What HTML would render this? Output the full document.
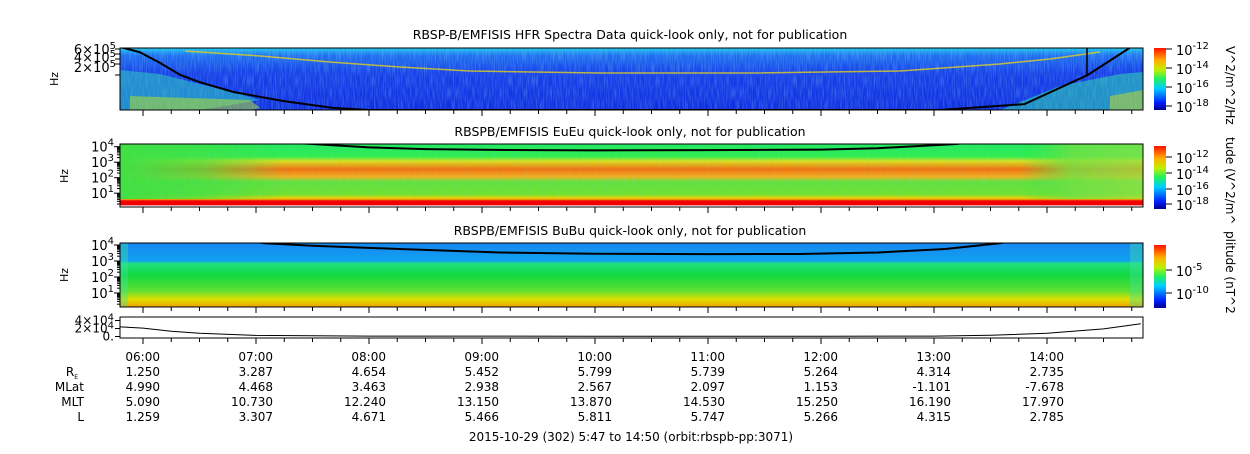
<!DOCTYPE html>
<html><head><meta charset="utf-8">
<style>
body{margin:0;background:#fff;width:1250px;height:449px;overflow:hidden;font-family:"Liberation Sans","DejaVu Sans",sans-serif}
svg text{font-family:"DejaVu Sans","Liberation Sans",sans-serif;fill:#000}
</style></head><body>
<svg id="c" width="1250" height="449" viewBox="0 0 1250 449" xmlns="http://www.w3.org/2000/svg">
<defs>
<linearGradient id="jet" x1="0" y1="1" x2="0" y2="0">
<stop offset="0" stop-color="#00008f"/><stop offset="0.12" stop-color="#0020ff"/><stop offset="0.35" stop-color="#00d0ff"/><stop offset="0.5" stop-color="#20f060"/><stop offset="0.65" stop-color="#c0f000"/><stop offset="0.8" stop-color="#ffb000"/><stop offset="1" stop-color="#ff1000"/>
</linearGradient>
<linearGradient id="p1g" x1="0" y1="0" x2="0" y2="1">
<stop offset="0" stop-color="#20c8f0"/><stop offset="0.12" stop-color="#2070f0"/><stop offset="0.4" stop-color="#1840e8"/><stop offset="1" stop-color="#1030e0"/>
</linearGradient>
<linearGradient id="p2g" x1="0" y1="0" x2="0" y2="1">
<stop offset="0" stop-color="#20e860"/><stop offset="0.2" stop-color="#30ec50"/><stop offset="0.27" stop-color="#d8e020"/><stop offset="0.4" stop-color="#f07010"/><stop offset="0.52" stop-color="#f0b020"/><stop offset="0.6" stop-color="#60e040"/><stop offset="0.8" stop-color="#70e030"/><stop offset="0.86" stop-color="#f0d000"/><stop offset="0.89" stop-color="#f07000"/><stop offset="0.9" stop-color="#f00000"/><stop offset="0.97" stop-color="#f00000"/><stop offset="0.98" stop-color="#ffffff"/><stop offset="1" stop-color="#ffffff"/>
</linearGradient>
<linearGradient id="p3g" x1="0" y1="0" x2="0" y2="1">
<stop offset="0" stop-color="#1888f0"/><stop offset="0.28" stop-color="#10a0f0"/><stop offset="0.32" stop-color="#20e080"/><stop offset="0.5" stop-color="#10d840"/><stop offset="0.75" stop-color="#60e030"/><stop offset="0.88" stop-color="#e0e000"/><stop offset="1" stop-color="#f0a000"/>
</linearGradient>
<linearGradient id="bandH" x1="0" y1="0" x2="1" y2="0">
<stop offset="0" stop-color="#40e040" stop-opacity="1"/><stop offset="0.08" stop-color="#40e040" stop-opacity="0.7"/><stop offset="0.16" stop-color="#40e040" stop-opacity="0"/><stop offset="0.88" stop-color="#40e040" stop-opacity="0"/><stop offset="0.93" stop-color="#70e040" stop-opacity="0.8"/><stop offset="1" stop-color="#90e040" stop-opacity="0.7"/>
</linearGradient>
<filter id="nz"><feTurbulence type="fractalNoise" baseFrequency="0.9 0.08" numOctaves="1" seed="3"/><feColorMatrix values="0 0 0 0 0.3  0 0 0 0 0.8  0 0 0 0 1  0 0 0 0.9 -0.35"/></filter>
<clipPath id="c1"><rect x="120" y="48" width="1023" height="62"/></clipPath>
<clipPath id="c2"><rect x="120" y="144" width="1023" height="63"/></clipPath>
<clipPath id="c3"><rect x="120" y="243" width="1023" height="64"/></clipPath>
<clipPath id="c4"><rect x="120" y="317" width="1023" height="21"/></clipPath>
</defs>

<text x="630" y="39" font-size="12.5" text-anchor="middle">RBSP-B/EMFISIS  HFR Spectra Data quick-look only, not for publication</text>
<text x="630" y="136" font-size="12.5" text-anchor="middle">RBSPB/EMFISIS  EuEu quick-look only, not for publication</text>
<text x="630" y="235" font-size="12.5" text-anchor="middle">RBSPB/EMFISIS  BuBu quick-look only, not for publication</text>

<g clip-path="url(#c1)">
<rect x="120" y="48" width="1023" height="62" fill="url(#p1g)"/>
<rect x="120" y="48" width="1023" height="62" filter="url(#nz)" opacity="0.7"/>
<polygon points="120,70 160,74 200,84 240,94 260,100 200,110 120,110" fill="#30d0c0" opacity="0.55"/>
<polygon points="130,96 250,100 260,108 250,110 130,110" fill="#b0e030" opacity="0.55"/>
<polygon points="1000,110 1060,86 1120,74 1143,72 1143,110" fill="#30d8b0" opacity="0.55"/>
<polygon points="1110,96 1143,90 1143,110 1110,110" fill="#d0e020" opacity="0.5"/>
<polyline points="185,51 260,56 330,62 400,67 470,71 600,73 750,73 900,71 1000,64 1050,59 1100,52" fill="none" stroke="#e0d020" stroke-width="1.5" opacity="0.8"/>
<path id="curve1" fill="none" stroke="#000" stroke-width="2"/>
<line x1="1087" y1="48" x2="1087" y2="75" stroke="#000" stroke-width="1.5"/>
</g>
<rect x="120" y="48" width="1023" height="62" fill="none" stroke="#000"/>

<g clip-path="url(#c2)">
<rect x="120" y="144" width="1023" height="63" fill="url(#p2g)"/>
<rect x="120" y="144" width="1023" height="55" fill="url(#bandH)"/>
<rect x="120" y="144" width="1023" height="52" filter="url(#nz)" opacity="0.25"/>
<path id="curve2" fill="none" stroke="#000" stroke-width="2"/>
</g>
<rect x="120" y="144" width="1023" height="63" fill="none" stroke="#000"/>

<g clip-path="url(#c3)">
<rect x="120" y="243" width="1023" height="64" fill="url(#p3g)"/>
<rect x="120" y="243" width="8" height="64" fill="#40e0a0" opacity="0.4"/>
<rect x="1130" y="243" width="13" height="64" fill="#40e0a0" opacity="0.4"/>
<path id="curve3" fill="none" stroke="#000" stroke-width="2"/>
</g>
<rect x="120" y="243" width="1023" height="64" fill="none" stroke="#000"/>

<g clip-path="url(#c4)"><path id="curve4" fill="none" stroke="#000" stroke-width="1"/></g>
<rect x="120" y="317" width="1023" height="21" fill="none" stroke="#000"/>

<g font-size="13">
<text x="116" y="54" text-anchor="end">6×10<tspan font-size="10" dy="-5">5</tspan></text>
<text x="116" y="62" text-anchor="end">4×10<tspan font-size="10" dy="-5">5</tspan></text>
<text x="116" y="72" text-anchor="end">2×10<tspan font-size="10" dy="-5">5</tspan></text>
<text x="58" y="79" font-size="11" transform="rotate(-90 58 79)" text-anchor="middle">Hz</text>
<text x="68" y="176" font-size="11" transform="rotate(-90 68 176)" text-anchor="middle">Hz</text>
<text x="68" y="275" font-size="11" transform="rotate(-90 68 275)" text-anchor="middle">Hz</text>
</g>
<g id="yticks" font-size="11"></g>
<g id="xticks"></g>

<g>
<rect x="1154" y="48" width="12" height="62" fill="url(#jet)"/>
<rect x="1154" y="146" width="12" height="63" fill="url(#jet)"/>
<rect x="1154" y="245" width="12" height="63" fill="url(#jet)"/>
</g>
<g id="cbticks" font-size="12"></g>
<text font-size="12" transform="translate(1226,46) rotate(90)">V^2/m^2/Hz</text>
<text font-size="12" transform="translate(1226,137) rotate(90)">tude (V^2/m^</text>
<text font-size="12" transform="translate(1226,231) rotate(90)">plitude (nT^2</text>

<g id="ephem" font-size="12"></g>
<text x="631" y="441" font-size="12" text-anchor="middle">2015-10-29 (302) 5:47 to 14:50 (orbit:rbspb-pp:3071)</text>
</svg>
<script>
// ---- data ----
const p1Hours=[5.8,5.97,6.15,6.33,6.5,6.8,7.24,7.68,8.0,12.8,13.05,13.8,14.36,14.73];
const p1LogHz=[5.9,5.74,5.39,5.0,4.77,4.45,4.16,3.94,3.87,3.87,3.87,4.06,5.0,5.87];
const p2Hours=[6.5,7.5,8.0,8.5,9.0,10,11,12,12.5,13.2,13.6];
const p2Hz=[40000,15000,9000,7000,6300,5800,6000,6500,8000,15000,40000];
const p3Hours=[6.5,7.08,7.5,8.27,9.16,10,11,11.8,12.5,13.1,13.58,14];
const p3Hz=[40000,13000,9000,5600,3400,2800,2700,2750,3400,5600,13000,40000];
const p4Hours=[5.8,6.0,6.25,6.5,7.0,8.0,10,12,13,13.5,14,14.5,14.83];
const p4Val=[24000,21000,13000,8000,2700,1000,800,800,1000,3000,8000,19000,32000];
const tickHours=[6,7,8,9,10,11,12,13,14];
const tickLabels=["06:00","07:00","08:00","09:00","10:00","11:00","12:00","13:00","14:00"];
const ephemRows=["R","MLat","MLT","L"];
const ephemRE=["1.250","3.287","4.654","5.452","5.799","5.739","5.264","4.314","2.735"];
const ephemMLat=["4.990","4.468","3.463","2.938","2.567","2.097","1.153","-1.101","-7.678"];
const ephemMLT=["5.090","10.730","12.240","13.150","13.870","14.530","15.250","16.190","17.970"];
const ephemL=["1.259","3.307","4.671","5.466","5.811","5.747","5.266","4.315","2.785"];
// ---- scales ----
const NS="http://www.w3.org/2000/svg";
const X=h=>143+(h-6)*113;
const Y1=l=>75+(5-l)*31;
const Y2=v=>146.7+(4-Math.log10(v))*15.5;
const Y3=v=>245+(4-Math.log10(v))*16;
const Y4=v=>336.5-v/20000*8;
function mk(tag,attrs,parent,txt){const e=document.createElementNS(NS,tag);for(const k in attrs)e.setAttribute(k,attrs[k]);if(txt!==undefined)e.textContent=txt;parent.appendChild(e);return e;}
function path(hs,vs,fy){return hs.map((h,i)=>(i?"L":"M")+X(h).toFixed(1)+","+fy(vs[i]).toFixed(1)).join(" ");}
const c1=document.getElementById('curve1');c1.setAttribute('d',path(p1Hours,p1LogHz,Y1));


const c2=document.getElementById('curve2');c2.setAttribute('d',path(p2Hours,p2Hz,Y2));


const c3=document.getElementById('curve3');c3.setAttribute('d',path(p3Hours,p3Hz,Y3));


const c4=document.getElementById('curve4');c4.setAttribute('d',path(p4Hours,p4Val,Y4));


// x ticks
const xt=document.getElementById('xticks');
const panels=[[48,110],[144,207],[243,307],[317,338]];
for(let m=6*60-15;m<=14*60+45;m+=15){const h=m/60;const x=X(h);if(x<121||x>1142)continue;const major=m%60===0;
 panels.forEach(p=>{const t=mk('line',{x1:x,x2:x,y1:p[1],y2:p[1]+(major?6:4),stroke:'#000'},xt);
 
 });}
// y ticks (log)
const yt=document.getElementById('yticks');
function ytick(y,len,lab,name){const t=mk('line',{x1:120-len,x2:120,y1:y,y2:y,stroke:'#000'},yt);
 
 
 if(lab!==null){const tx=mk('text',{x:114,y:y+5,'text-anchor':'end','font-size':13},yt);tx.textContent='10';const s=mk('tspan',{'font-size':10,dy:-6},tx,lab);
 
 }}
[[1,"1"],[2,"2"],[3,"3"],[4,"4"]].forEach(([d,l])=>{ytick(Y2(Math.pow(10,d)),6,l,'p2-y-tick');ytick(Y3(Math.pow(10,d)),6,l,'p3-y-tick');
 for(let k=2;k<10;k++){const v=k*Math.pow(10,d-1);const a=Y2(v),b=Y3(v);if(a>144&&a<207)ytick(a,3,null,'p2-minor');if(b>243&&b<307)ytick(b,3,null,'p3-minor');}});
[49,54,59,64,75].forEach(y=>ytick(y,5,null,'p1-y-tick'));
[[4e4,"4×10"],[2e4,"2×10"],[0,"0."]].forEach(([v,l])=>{const y=Y4(v);ytick(y,5,null,'p4-y-tick');
 const tx=mk('text',{x:114,y:y+4,'text-anchor':'end','font-size':12},yt,l);
 
 
 if(v>0){mk('tspan',{'font-size':10,dy:-4},tx,'4');}});
// colorbar ticks
const cb=document.getElementById('cbticks');
function cbt(y,lab,sup){mk('line',{x1:1166,x2:1172,y1:y,y2:y,stroke:'#000'},cb);if(lab){const t=mk('text',{x:1176,y:y+6,'font-size':13},cb,lab);mk('tspan',{'font-size':10,dy:-6},t,sup);
 
 }}
[[49,"-12"],[68,"-14"],[87,"-16"],[106,"-18"]].forEach(([y,s])=>cbt(y,'10',s));
[[157,"-12"],[173,"-14"],[189,"-16"],[204,"-18"]].forEach(([y,s])=>cbt(y,'10',s));
cbt(270,'10','-5');cbt(293,'10','-10');
// ephemeris
const eg=document.getElementById('ephem');
const rowY=[361,376,391,406,421];
tickHours.forEach((h,i)=>{const x=X(h)+17;
 const a=mk('text',{x:x,y:rowY[0],'text-anchor':'end'},eg,tickLabels[i]);
 
 
 [ephemRE,ephemMLat,ephemMLT,ephemL].forEach((arr,r)=>{const t=mk('text',{x:x,y:rowY[r+1],'text-anchor':'end'},eg,arr[i]);
 
 });});
ephemRows.forEach((n,r)=>{const t=mk('text',{x:84,y:rowY[r+1],'text-anchor':'end'},eg,n);
 
 
 if(r===0){t.setAttribute('x',78);mk('tspan',{'font-size':6,dy:3},t,'E');}});
</script>
</body></html>
